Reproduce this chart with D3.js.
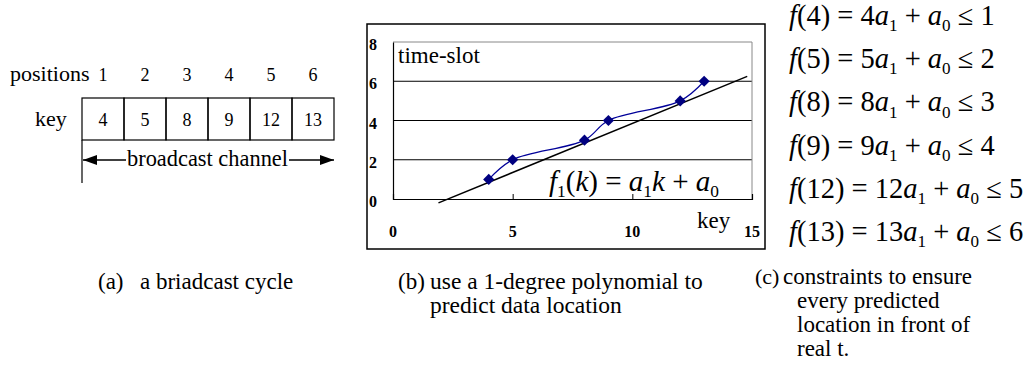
<!DOCTYPE html>
<html><head><meta charset="utf-8">
<script src="https://cdn.jsdelivr.net/npm/d3@7"></script>
<style>
html,body{margin:0;padding:0;background:#fff;}
svg{display:block;}
</style></head>
<body>
<svg id="c" width="1028" height="369"></svg>
<script>
// ---- data ----
const positions = [1, 2, 3, 4, 5, 6];
const keys = [4, 5, 8, 9, 12, 13];
const slots = [1, 2, 3, 4, 5, 6];
const xTicks = [0, 5, 10, 15];
const yTicks = [0, 2, 4, 6, 8];
const fitKeys = [1.9, 14.8];
const fitSlots = [-0.2, 6.25];
const captionA = ["(a)", "a briadcast cycle"];
const captionB = ["(b)", "use a 1-degree polynomial to", "predict data location"];
const captionC = ["(c)", "constraints to ensure", "every predicted", "location in front of", "real t."];

const SERIF = "Liberation Serif";
const svg = d3.select("#c");
function txt(g, xx, yy, size, s) {
  return g.append("text").attr("x", xx).attr("y", yy).attr("font-size", size).attr("font-family", SERIF).text(s);
}

// ================= (a) broadcast cycle =================
const gA = svg.append("g");
const band = d3.scaleBand().domain(positions).range([82, 334]).padding(0);
const rowTop = 98, rowBot = 140;

txt(gA, 10, 81, 22, "positions");
gA.selectAll("text.pos").data(positions).join("text").attr("class", "pos")
  .attr("x", d => band(d) + band.bandwidth() / 2).attr("y", 81).attr("font-family", SERIF)
  .attr("text-anchor", "middle").attr("font-size", 18).text(d => d);

txt(gA, 35, 126, 22, "key");
gA.selectAll("rect.cell").data(positions).join("rect").attr("class", "cell")
  .attr("x", d => band(d)).attr("y", rowTop).attr("width", band.bandwidth()).attr("height", rowBot - rowTop)
  .attr("fill", "none").attr("stroke", "#000").attr("stroke-width", 1.2);
gA.selectAll("text.key").data(positions).join("text").attr("class", "key")
  .attr("x", d => band(d) + band.bandwidth() / 2).attr("y", 126).attr("font-family", SERIF)
  .attr("text-anchor", "middle").attr("font-size", 18).text((d, i) => keys[i]);

gA.append("line").attr("x1", band.range()[0]).attr("x2", band.range()[0]).attr("y1", rowBot).attr("y2", 183)
  .attr("stroke", "#000").attr("stroke-width", 1.2);

const defs = svg.append("defs");
defs.append("marker").attr("id", "ah").attr("viewBox", "0 0 14 10").attr("refX", 14).attr("refY", 5)
  .attr("markerWidth", 14).attr("markerHeight", 10).attr("markerUnits", "userSpaceOnUse").attr("orient", "auto")
  .append("path").attr("d", "M0,0 L14,5 L0,10 Z").attr("fill", "#000");

const arrowY = 160;
gA.append("line").attr("x1", 126).attr("x2", band.range()[0] + 1).attr("y1", arrowY).attr("y2", arrowY)
  .attr("stroke", "#000").attr("stroke-width", 1.3).attr("marker-end", "url(#ah)");
gA.append("line").attr("x1", 289).attr("x2", band.range()[1]).attr("y1", arrowY).attr("y2", arrowY)
  .attr("stroke", "#000").attr("stroke-width", 1.3).attr("marker-end", "url(#ah)");
txt(gA, 127, 166, 23, "broadcast channel").attr("textLength", 161).attr("lengthAdjust", "spacingAndGlyphs");

// caption (a)
txt(svg, 98, 289, 23, captionA[0]);
txt(svg, 140, 289, 23, captionA[1]);

// ================= (b) chart =================
const gB = svg.append("g");
gB.append("rect").attr("x", 367).attr("y", 24).attr("width", 398).attr("height", 225)
  .attr("fill", "none").attr("stroke", "#000").attr("stroke-width", 1.5);

const x = d3.scaleLinear().domain([0, 15]).range([393, 752]);
const y = d3.scaleLinear().domain([0, 8]).range([199, 42]);

gB.selectAll("line.grid").data(yTicks.filter(d => d > 0)).join("line").attr("class", "grid")
  .attr("x1", x(0)).attr("x2", x(15)).attr("y1", d => y(d)).attr("y2", d => y(d))
  .attr("stroke", d => d === 8 ? "#888" : "#000").attr("stroke-width", 1);
gB.append("line").attr("x1", x(15)).attr("x2", x(15)).attr("y1", y(8)).attr("y2", y(0))
  .attr("stroke", "#888").attr("stroke-width", 1);

const xAxis = d3.axisTop(x).tickValues(xTicks).tickSize(5).tickFormat("");
gB.append("g").attr("transform", `translate(0,${y(0)})`).call(xAxis)
  .call(g => g.select(".domain").attr("stroke", "#000").attr("stroke-width", 1.2));
const yAxis = d3.axisLeft(y).tickValues(yTicks).tickSize(0).tickFormat("");
gB.append("g").attr("transform", `translate(${x(0)},0)`).call(yAxis)
  .call(g => g.select(".domain").attr("stroke", "#000").attr("stroke-width", 1.2));

gB.selectAll("text.yt").data(yTicks).join("text").attr("class", "yt")
  .attr("x", 369).attr("y", d => y(d) + 8).attr("font-size", 16).attr("font-weight", "bold")
  .attr("font-family", SERIF).text(d => d);
gB.selectAll("text.xt").data(xTicks).join("text").attr("class", "xt")
  .attr("x", d => x(d)).attr("y", 237).attr("text-anchor", "middle").attr("font-family", SERIF)
  .attr("font-size", 16).attr("font-weight", "bold").text(d => d);

txt(gB, 697, 228, 23, "key");
txt(gB, 398, 63, 23, "time-slot");

gB.append("line").attr("x1", x(fitKeys[0])).attr("y1", y(fitSlots[0]))
  .attr("x2", x(fitKeys[1])).attr("y2", y(fitSlots[1])).attr("stroke", "#000").attr("stroke-width", 1.5);

const pts = keys.map((k, i) => [k, slots[i]]);
gB.append("path").datum(pts)
  .attr("d", d3.line().x(d => x(d[0])).y(d => y(d[1])).curve(d3.curveCatmullRom.alpha(0.5)))
  .attr("fill", "none").attr("stroke", "#000099").attr("stroke-width", 1.2);
gB.selectAll("path.mk").data(pts).join("path").attr("class", "mk")
  .attr("transform", d => `translate(${x(d[0])},${y(d[1])})`)
  .attr("d", d3.symbol(d3.symbolDiamond2, 80)).attr("fill", "#000080");

function mathText(g, xx, yy, size, parts) {
  const t = g.append("text").attr("x", xx).attr("y", yy).attr("font-size", size)
    .attr("font-family", SERIF).style("white-space", "pre");
  parts.forEach(p => {
    const s = t.append("tspan").text(p.t);
    if (p.i) s.attr("font-style", "italic");
    if (p.sub) s.attr("font-size", size * 0.6).attr("dy", size * 0.22);
    if (p.back) s.attr("dy", -size * 0.22);
  });
  return t;
}
mathText(gB, 549, 191, 29, [
  {t: "f", i: 1}, {t: "1", sub: 1}, {t: "(", back: 1}, {t: "k", i: 1}, {t: ") = "},
  {t: "a", i: 1}, {t: "1", sub: 1}, {t: "k", i: 1, back: 1}, {t: " + "}, {t: "a", i: 1}, {t: "0", sub: 1}
]);

txt(svg, 398, 289, 23, captionB[0]);
txt(svg, 430, 289, 23.5, captionB[1]);
txt(svg, 430, 313, 23.5, captionB[2]);

// ================= (c) constraints =================
const gC = svg.append("g");
const rowY = d3.scalePoint().domain(keys).range([25, 241]);
keys.forEach((k, i) => {
  mathText(gC, 789, rowY(k), 28.5, [
    {t: "f", i: 1}, {t: `(${k}) = ${k}`}, {t: "a", i: 1}, {t: "1", sub: 1}, {t: " + ", back: 1},
    {t: "a", i: 1}, {t: "0", sub: 1}, {t: " ≤ " + positions[i], back: 1}
  ]);
});
txt(gC, 755, 284, 22, captionC[0]);
txt(gC, 783, 284, 23, captionC[1]);
captionC.slice(2).forEach((s, i) => txt(gC, 797, 308 + i * 24, 23, s));
</script>
</body></html>
